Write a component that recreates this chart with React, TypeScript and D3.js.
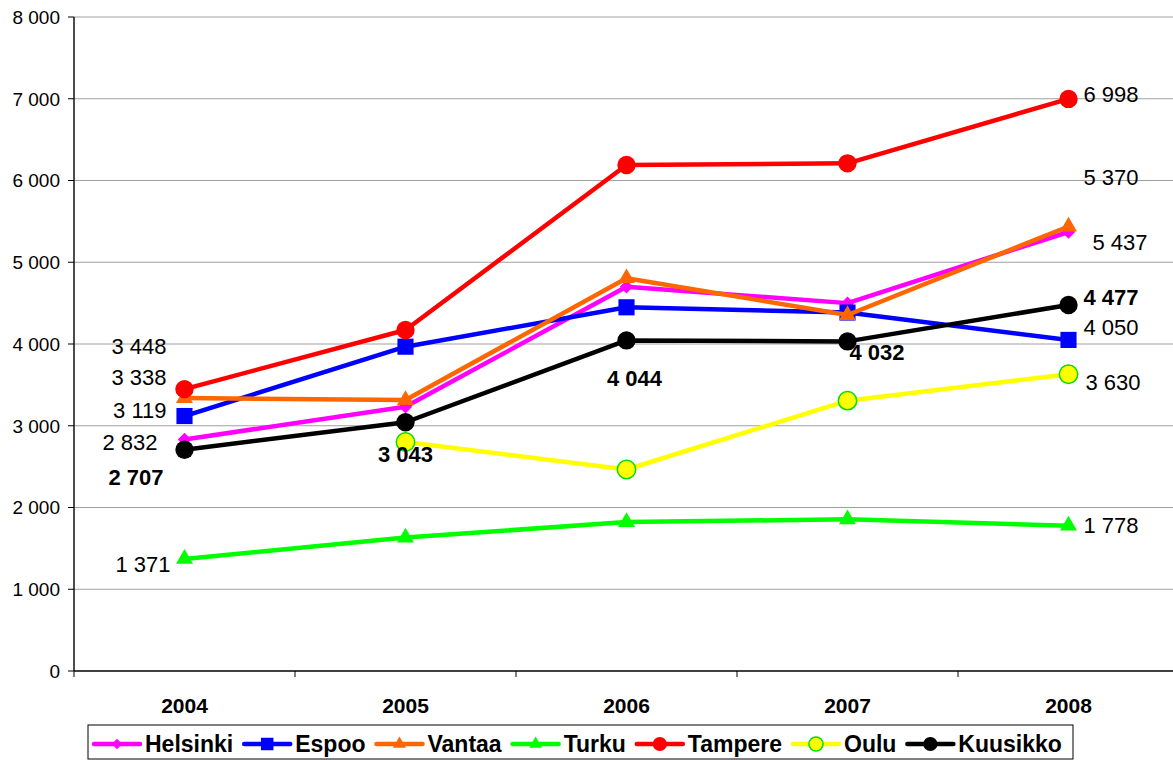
import React from "react";
import * as d3 from "d3";

const width = 1173;
const height = 760;
const plot = { left: 74, top: 17, bottom: 671, right: 1179 };

// data
const years = ["2004", "2005", "2006", "2007", "2008"];
const helsinki = [2832, 3233, 4701, 4500, 5370];
const espoo = [3119, 3967, 4449, 4385, 4050];
const vantaa = [3338, 3315, 4805, 4355, 5437];
const turku = [1371, 1632, 1822, 1855, 1778];
const tampere = [3448, 4171, 6190, 6210, 6998];
const oulu = [null, 2801, 2465, 3307, 3630];
const kuusikko = [2707, 3043, 4044, 4032, 4477];
const yTicks = [0, 1000, 2000, 3000, 4000, 5000, 6000, 7000, 8000];

type Series = {
  name: string;
  values: (number | null)[];
  color: string;
  marker: string;
  stroke?: string;
};

const series: Series[] = [
  { name: "Helsinki", values: helsinki, color: "#ff00ff", marker: "diamond" },
  { name: "Espoo", values: espoo, color: "#0000ff", marker: "square" },
  { name: "Vantaa", values: vantaa, color: "#ff6600", marker: "triangle" },
  { name: "Turku", values: turku, color: "#00ff00", marker: "triangle" },
  { name: "Tampere", values: tampere, color: "#ff0000", marker: "circle" },
  { name: "Oulu", values: oulu, color: "#ffff00", marker: "circle", stroke: "#00dd00" },
  { name: "Kuusikko", values: kuusikko, color: "#000000", marker: "circle" },
];

// data labels: which series/point, offset from the point, anchor
const labels = [
  { s: "Tampere", i: 0, dx: -18, dy: -43, anchor: "end" },
  { s: "Vantaa", i: 0, dx: -18, dy: -21, anchor: "end" },
  { s: "Espoo", i: 0, dx: -18, dy: -6, anchor: "end" },
  { s: "Helsinki", i: 0, dx: -27, dy: 3, anchor: "end" },
  { s: "Kuusikko", i: 0, dx: -21, dy: 27, anchor: "end" },
  { s: "Turku", i: 0, dx: -14, dy: 5, anchor: "end" },
  { s: "Kuusikko", i: 1, dx: 0, dy: 32, anchor: "middle" },
  { s: "Kuusikko", i: 2, dx: 8, dy: 38, anchor: "middle" },
  { s: "Kuusikko", i: 3, dx: 2, dy: 11, anchor: "start" },
  { s: "Tampere", i: 4, dx: 15, dy: -5, anchor: "start" },
  { s: "Helsinki", i: 4, dx: 15, dy: -55, anchor: "start" },
  { s: "Vantaa", i: 4, dx: 24, dy: 16, anchor: "start" },
  { s: "Kuusikko", i: 4, dx: 15, dy: -8, anchor: "start" },
  { s: "Espoo", i: 4, dx: 15, dy: -13, anchor: "start" },
  { s: "Oulu", i: 4, dx: 17, dy: 8, anchor: "start" },
  { s: "Turku", i: 4, dx: 15, dy: -1, anchor: "start" },
];

const font = "'Liberation Sans', Arial, sans-serif";
const fmt = d3.formatLocale({ decimal: ",", thousands: " ", grouping: [3], currency: ["", ""] }).format(",");

const xScale = d3.scaleBand().domain(years).range([plot.left, plot.right]);
const yScale = d3.scaleLinear().domain([0, 8000]).range([plot.bottom, plot.top]);
const cx = (i: number) => (xScale(years[i]) as number) + xScale.bandwidth() / 2;

const symbolPath = (marker: string, big: boolean) => {
  const k = big ? 1 : 0.6;
  const type =
    marker === "diamond" ? d3.symbolDiamond2 :
    marker === "square" ? d3.symbolSquare :
    marker === "triangle" ? d3.symbolTriangle : d3.symbolCircle;
  const size =
    marker === "diamond" ? 115 :
    marker === "square" ? 260 :
    marker === "triangle" ? 125 : 265;
  return d3.symbol().type(type).size(size * k)() as string;
};

const measure = (text: string, f: string) => {
  const ctx = document.createElement("canvas").getContext("2d");
  if (!ctx) return text.length * 12;
  ctx.font = f;
  return ctx.measureText(text).width;
};

const Legend = () => {
  const legendFont = `bold 23px ${font}`;
  let x = 94;
  const items = series.map((s) => {
    const item = { s, x };
    x += 46 + 5 + measure(s.name, legendFont) + 11;
    return item;
  });
  return (
    <g>
      <rect x={88} y={725} width={985} height={34} fill="#fff" stroke="#000" strokeWidth={1} />
      {items.map(({ s, x }) => (
        <g key={s.name} transform={`translate(${x},744)`}>
          <line x1={0} x2={46} stroke={s.color} strokeWidth={4.5} strokeLinecap="round" />
          <path
            transform="translate(23,0)"
            d={symbolPath(s.marker, false)}
            fill={s.color}
            stroke={s.stroke ?? s.color}
            strokeWidth={s.stroke ? 1.5 : 0}
          />
          <text x={51} dy="0.36em" fontFamily={font} fontWeight="bold" fontSize={23}>
            {s.name}
          </text>
        </g>
      ))}
    </g>
  );
};

export default function App() {
  const line = d3
    .line<number | null>()
    .defined((d) => d != null)
    .x((_, i) => cx(i))
    .y((d) => yScale(d as number));

  return (
    <svg
      width={width}
      height={height}
      style={{ position: "absolute", left: 0, top: 0, background: "#fff" }}
    >
      {/* grid + y axis */}
      {yTicks.map((t) => (
        <g key={t}>
          {t > 0 && (
            <line x1={plot.left} x2={width} y1={yScale(t)} y2={yScale(t)} stroke="#a0a0a0" strokeWidth={1} />
          )}
          <line x1={plot.left - 6} x2={plot.left} y1={yScale(t)} y2={yScale(t)} stroke="#000" />
          <text
            x={60}
            y={yScale(t)}
            dy="0.36em"
            textAnchor="end"
            fontFamily={font}
            fontSize={19}
          >
            {fmt(t)}
          </text>
        </g>
      ))}
      <line x1={plot.left} x2={plot.left} y1={plot.top} y2={plot.bottom} stroke="#000" strokeWidth={1.4} />
      {/* x axis */}
      <line x1={plot.left} x2={width} y1={plot.bottom} y2={plot.bottom} stroke="#000" strokeWidth={1.4} />
      {years.map((y) => (
        <g key={y}>
          <line
            x1={xScale(y) as number}
            x2={xScale(y) as number}
            y1={plot.bottom}
            y2={plot.bottom + 6}
            stroke="#000"
          />
          <text
            x={(xScale(y) as number) + xScale.bandwidth() / 2}
            y={705}
            dy="0.36em"
            textAnchor="middle"
            fontFamily={font}
            fontWeight="bold"
            fontSize={21}
          >
            {y}
          </text>
        </g>
      ))}
      {/* series */}
      {series.map((s) => (
        <g key={s.name}>
          <path d={line(s.values) as string} fill="none" stroke={s.color} strokeWidth={4.5} strokeLinejoin="round" />
          {s.values.map((v, i) =>
            v == null ? null : (
              <path
                key={i}
                transform={`translate(${cx(i)},${yScale(v)})`}
                d={symbolPath(s.marker, true)}
                fill={s.color}
                stroke={s.stroke ?? s.color}
                strokeWidth={s.stroke ? 1.5 : 0}
              />
            )
          )}
        </g>
      ))}
      {/* data labels */}
      {labels.map((l, k) => {
        const s = series.find((d) => d.name === l.s) as Series;
        const v = s.values[l.i] as number;
        return (
          <text
            key={k}
            x={cx(l.i) + l.dx}
            y={yScale(v) + l.dy}
            dy="0.36em"
            textAnchor={l.anchor as any}
            fontFamily={font}
            fontSize={22}
            fontWeight={s.name === "Kuusikko" ? "bold" : "normal"}
          >
            {fmt(v)}
          </text>
        );
      })}
      <Legend />
    </svg>
  );
}
